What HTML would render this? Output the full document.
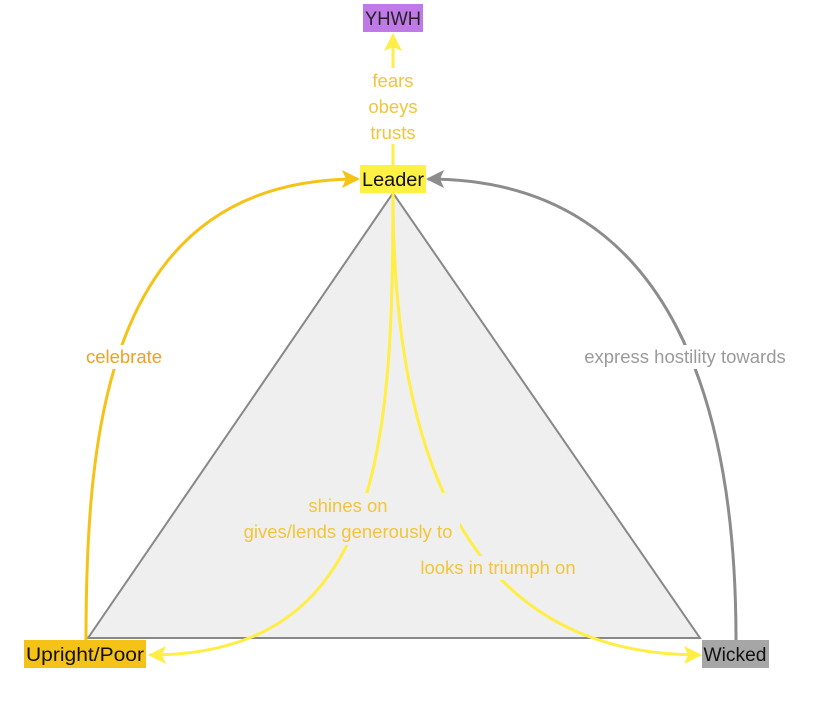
<!DOCTYPE html>
<html><head><meta charset="utf-8"><style>
html,body{margin:0;padding:0;background:#fff;}
svg{display:block;font-family:"Liberation Sans",sans-serif;}
</style></head><body>
<svg width="825" height="702" viewBox="0 0 825 702" xmlns="http://www.w3.org/2000/svg">
<defs>
<marker id="ay2" markerWidth="18" markerHeight="18" refX="16" refY="9" orient="auto" markerUnits="userSpaceOnUse"><path d="M0,0 L18,9 L0,18 L4,9z" fill="#ffee44"/></marker>
<marker id="ao" markerWidth="18" markerHeight="18" refX="16" refY="9" orient="auto" markerUnits="userSpaceOnUse"><path d="M0,0 L18,9 L0,18 L4,9z" fill="#f5c218"/></marker>
<marker id="ag" markerWidth="18" markerHeight="18" refX="16" refY="9" orient="auto" markerUnits="userSpaceOnUse"><path d="M0,0 L18,9 L0,18 L4,9z" fill="#8c8c8c"/></marker>
</defs>
<polygon points="393,193 88,638 700,638" fill="#efefef" stroke="#888" stroke-width="2"/>
<path d="M86,640 C86,420 110,179 358,179" fill="none" stroke="#f5c218" stroke-width="3" marker-end="url(#ao)"/>
<path d="M736,640 C736,420 680,179 428,179" fill="none" stroke="#8c8c8c" stroke-width="3" marker-end="url(#ag)"/>
<path d="M393,165 L393,35" fill="none" stroke="#ffee44" stroke-width="3" marker-end="url(#ay2)"/>
<path d="M393,193 C393,450 380,655 150,655" fill="none" stroke="#ffee44" stroke-width="3" marker-end="url(#ay2)"/>
<path d="M393,193 C393,480 480,655 700,655" fill="none" stroke="#ffee44" stroke-width="3" marker-end="url(#ay2)"/>
<rect x="364" y="68" width="58" height="76" fill="#fff"/>
<rect x="80" y="345" width="88" height="24" fill="#fff"/>
<rect x="578" y="345" width="214" height="24" fill="#fff"/>
<rect x="238" y="493" width="222" height="52" fill="#efefef"/>
<rect x="412" y="556" width="172" height="24" fill="#efefef"/>
<g font-size="18.5" text-anchor="middle">
<text x="393" y="87" fill="#f2c53a">fears</text>
<text x="393" y="113" fill="#f2c53a">obeys</text>
<text x="393" y="139" fill="#f2c53a">trusts</text>
<text x="124" y="363" fill="#f0a020">celebrate</text>
<text x="685" y="363" fill="#9a9a9a">express hostility towards</text>
<text x="348" y="512" fill="#f2c53a">shines on</text>
<text x="348" y="538" fill="#f2c53a">gives/lends generously to</text>
<text x="498" y="574" fill="#f2c53a">looks in triumph on</text>
</g>
<rect x="363" y="4" width="60" height="28" fill="#c07ae8"/>
<text x="393" y="25" font-size="19" text-anchor="middle" fill="#222" textLength="56" lengthAdjust="spacingAndGlyphs">YHWH</text>
<rect x="360" y="165" width="66" height="28" fill="#fff044"/>
<text x="393" y="186" font-size="19" text-anchor="middle" fill="#111" textLength="62" lengthAdjust="spacingAndGlyphs">Leader</text>
<rect x="24" y="640" width="122" height="28" fill="#f5c218"/>
<text x="85" y="661" font-size="19" text-anchor="middle" fill="#111" textLength="118" lengthAdjust="spacingAndGlyphs">Upright/Poor</text>
<rect x="702" y="640" width="67" height="28" fill="#a6a6a6"/>
<text x="735" y="661" font-size="19" text-anchor="middle" fill="#111" textLength="63" lengthAdjust="spacingAndGlyphs">Wicked</text>
</svg>
</body></html>
